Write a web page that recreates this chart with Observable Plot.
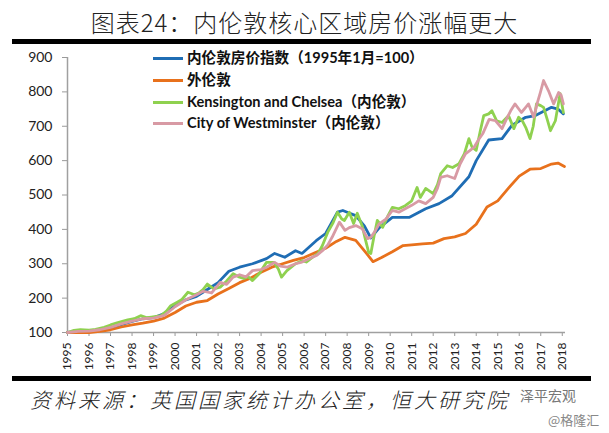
<!DOCTYPE html>
<html><head><meta charset="utf-8">
<script src="https://cdn.jsdelivr.net/npm/d3@7"></script>
<script src="https://cdn.jsdelivr.net/npm/@observablehq/plot@0.6"></script>
<style>
body{margin:0;background:#fff;}
#wrap{position:relative;width:609px;height:433px;overflow:hidden;background:#fff;font-family:"Noto Sans CJK SC",sans-serif;}
#title{position:absolute;top:4px;left:0;width:609px;text-align:center;font-size:24px;font-weight:300;color:#222;letter-spacing:1px;}
.bar{position:absolute;left:12px;width:579px;height:5px;background:#000;}
#chart{position:absolute;top:47px;left:0;}
#legend{position:absolute;left:153px;top:48px;}
.lg{position:absolute;left:0;white-space:nowrap;height:20px;line-height:20px;font-family:Lato,"Noto Sans CJK SC",sans-serif;font-weight:700;font-size:14.6px;color:#111;}
.lg span.sw{position:absolute;left:0;top:9px;width:30px;height:3px;}
.lg span.tx{position:absolute;left:34px;top:0;}
#caption{position:absolute;top:384px;left:30px;font-size:21px;font-style:italic;letter-spacing:3px;color:#222;white-space:nowrap;font-weight:300;}
#wm1{position:absolute;top:385px;left:520px;font-size:14px;color:#777;}
#wm2{position:absolute;top:410px;left:548px;font-size:13px;color:#888;}
</style></head><body>
<div id="wrap">
 <div id="title">图表24：内伦敦核心区域房价涨幅更大</div>
 <div class="bar" style="top:39px"></div>
 <div id="chart"></div>
 <div id="legend"></div>
 <div class="bar" style="top:376px"></div>
 <div id="caption">资料来源：英国国家统计办公室，恒大研究院</div>
 <div id="wm1">泽平宏观</div>
 <div id="wm2">@格隆汇</div>
</div>
<script>
const seriesNames = ["内伦敦房价指数（1995年1月=100）", "外伦敦", "Kensington and Chelsea（内伦敦）", "City of Westminster（内伦敦）"];
const seriesColors = ["#1f6db4", "#e8711c", "#8fd14f", "#d89aa4"];
const yTicks = [100, 200, 300, 400, 500, 600, 700, 800, 900];
const xTicks = d3.range(1995, 2019);

// [year, index value]
const innerLondon = [[1995.0,100],[1995.5,103],[1996.0,104],[1996.5,108],[1997.0,113],[1997.5,123],[1998.0,132],[1998.5,140],[1999.0,143],[1999.5,155],[2000.0,178],[2000.5,195],[2001.0,205],[2001.5,225],[2002.0,245],[2002.5,278],[2003.0,290],[2003.6,300],[2004.25,315],[2004.63,330],[2005.1,319],[2005.6,338],[2005.9,330],[2006.56,367],[2007.0,388],[2007.55,450],[2007.8,455],[2008.0,450],[2008.4,440],[2008.8,410],[2009.1,375],[2009.5,405],[2010.1,435],[2010.9,435],[2011.65,460],[2012.27,475],[2012.88,498],[2013.66,553],[2014.0,600],[2014.58,660],[2015.2,664],[2015.65,702],[2016.3,726],[2016.75,731],[2017.5,755],[2017.8,750],[2018.05,736]];
const outerLondon = [[1995.0,100],[1995.5,100],[1996.0,100],[1996.5,103],[1997.0,108],[1997.5,116],[1998.0,122],[1998.5,127],[1999.0,133],[1999.5,142],[2000.0,158],[2000.5,177],[2001.0,188],[2001.5,193],[2002.0,212],[2002.5,228],[2003.0,245],[2003.5,258],[2004.0,275],[2004.5,290],[2005.0,300],[2005.5,310],[2006.0,318],[2006.5,332],[2007.0,345],[2007.5,365],[2007.9,377],[2008.4,368],[2008.9,330],[2009.2,306],[2009.6,318],[2010.1,335],[2010.6,353],[2011.0,355],[2011.5,358],[2012.0,360],[2012.5,373],[2013.0,378],[2013.5,388],[2014.0,415],[2014.5,465],[2015.0,483],[2015.5,520],[2016.0,555],[2016.5,575],[2017.0,577],[2017.5,590],[2017.8,593],[2018.1,583]];
const kensington = [[1995.0,100],[1995.3,106],[1995.6,108],[1996.0,107],[1996.3,109],[1996.7,115],[1997.0,122],[1997.3,128],[1997.8,137],[1998.1,140],[1998.4,149],[1998.7,143],[1998.9,145],[1999.35,149],[1999.6,162],[1999.8,178],[2000.1,188],[2000.3,195],[2000.6,217],[2000.9,210],[2001.1,215],[2001.3,225],[2001.5,241],[2001.8,227],[2002.1,232],[2002.4,250],[2002.7,271],[2003.0,261],[2003.2,257],[2003.4,262],[2003.6,251],[2003.9,270],[2004.25,304],[2004.6,304],[2004.8,285],[2004.95,261],[2005.2,280],[2005.6,300],[2005.9,309],[2006.1,305],[2006.4,319],[2006.65,330],[2006.85,353],[2007.1,392],[2007.35,420],[2007.55,450],[2007.75,430],[2007.87,426],[2008.1,450],[2008.3,417],[2008.47,447],[2008.7,410],[2008.85,370],[2009.0,333],[2009.1,330],[2009.25,380],[2009.4,426],[2009.65,406],[2009.9,440],[2010.1,464],[2010.4,460],[2010.7,469],[2011.0,483],[2011.25,522],[2011.4,493],[2011.65,519],[2012.0,504],[2012.2,530],[2012.35,562],[2012.65,585],[2012.9,580],[2013.2,591],[2013.45,620],[2013.66,664],[2013.8,640],[2014.0,630],[2014.2,690],[2014.35,731],[2014.58,736],[2014.73,745],[2014.95,716],[2015.2,711],[2015.5,731],[2015.75,693],[2015.97,726],[2016.15,715],[2016.3,697],[2016.5,664],[2016.65,700],[2016.8,765],[2017.0,760],[2017.13,755],[2017.3,720],[2017.45,687],[2017.68,716],[2017.9,795],[2018.05,740]];
const westminster = [[1995.0,100],[1995.5,103],[1996.0,104],[1996.5,108],[1997.0,115],[1997.5,125],[1998.0,133],[1998.5,140],[1999.0,142],[1999.5,150],[2000.0,175],[2000.5,195],[2001.0,210],[2001.3,220],[2001.7,215],[2002.1,246],[2002.4,240],[2002.7,261],[2003.0,268],[2003.3,262],[2003.6,280],[2004.0,283],[2004.25,290],[2004.63,304],[2004.9,293],[2005.2,290],[2005.6,300],[2005.9,305],[2006.25,315],[2006.6,325],[2006.85,338],[2007.1,355],[2007.3,377],[2007.64,421],[2007.9,397],[2008.1,405],[2008.4,411],[2008.7,402],[2008.95,373],[2009.1,377],[2009.3,395],[2009.5,417],[2009.8,430],[2010.1,455],[2010.4,450],[2010.7,460],[2011.0,470],[2011.33,483],[2011.65,475],[2012.0,493],[2012.2,520],[2012.35,551],[2012.65,556],[2013.0,548],[2013.25,590],[2013.5,620],[2013.7,629],[2013.9,639],[2014.1,660],[2014.3,678],[2014.6,720],[2014.9,716],[2015.2,693],[2015.4,720],[2015.6,745],[2015.8,765],[2016.1,740],[2016.3,755],[2016.43,765],[2016.67,726],[2016.85,770],[2016.98,798],[2017.13,833],[2017.36,803],[2017.6,765],[2017.83,798],[2017.95,790],[2018.05,765]];

const seriesData = [innerLondon, outerLondon, kensington, westminster];
const rows = [];
seriesData.forEach((arr, i) => arr.forEach(([t, v]) => rows.push({t, v, s: seriesNames[i]})));

const chart = Plot.plot({
  width: 609, height: 328,
  marginTop: 10, marginBottom: 43, marginLeft: 67, marginRight: 44,
  style: {fontFamily: "Lato, 'Noto Sans', sans-serif", background: "transparent", color: "#222"},
  x: {domain: [1995, 2018.15], label: null},
  y: {domain: [100, 900], label: null},
  color: {domain: seriesNames, range: seriesColors},
  marks: [
    Plot.axisY({ticks: yTicks, tickSize: 5, tickPadding: 10, stroke: "#9a9a9a", fill: "#222", fontSize: 14, label: null}),
    Plot.axisX({ticks: xTicks, tickFormat: d => String(d), tickRotate: -90, tickSize: 4, tickPadding: 6, stroke: "#9a9a9a", fill: "#222", fontSize: 12, label: null}),
    Plot.ruleX([1995], {stroke: "#a0a0a0", strokeWidth: 1.5}),
    Plot.ruleY([100], {stroke: "#a0a0a0", strokeWidth: 1.5}),
    Plot.line(rows, {x: "t", y: "v", z: "s", stroke: "s", strokeWidth: 2.8, curve: "linear"})
  ]
});
document.getElementById("chart").appendChild(chart);

const legend = document.getElementById("legend");
seriesNames.forEach((name, i) => {
  const d = document.createElement("div");
  d.className = "lg";
  d.style.top = (i * 21.8) + "px";
  d.innerHTML = `<span class="sw" style="background:${seriesColors[i]}"></span><span class="tx">${name}</span>`;
  legend.appendChild(d);
});
</script>
</body></html>
